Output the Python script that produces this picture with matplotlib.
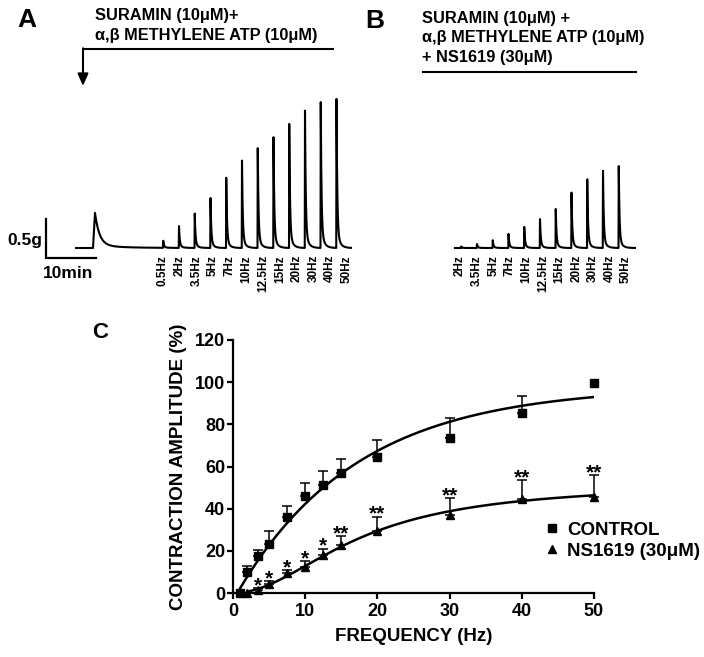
import numpy as np
import matplotlib
matplotlib.use('Agg')
import matplotlib.pyplot as plt
from matplotlib.lines import Line2D

plt.rcParams['font.family'] = ['Liberation Sans', 'DejaVu Sans']

W, H, DPI = 704, 657, 100

# ---------------- Panel A / B : isometric tension traces ----------------
freq_labels_A = ['0.5Hz', '2Hz', '3.5Hz', '5Hz', '7Hz', '10Hz', '12.5Hz',
                 '15Hz', '20Hz', '30Hz', '40Hz', '50Hz']
amp_A = [0.09, 0.28, 0.44, 0.64, 0.90, 1.12, 1.28, 1.42, 1.59, 1.76, 1.87, 1.91]   # g
drug_transient_A = 0.45   # g, response to drug application

freq_labels_B = ['2Hz', '3.5Hz', '5Hz', '7Hz', '10Hz', '12.5Hz', '15Hz',
                 '20Hz', '30Hz', '40Hz', '50Hz']
amp_B = [0.02, 0.05, 0.10, 0.18, 0.27, 0.37, 0.50, 0.71, 0.88, 0.99, 1.05]        # g

# ---------------- Panel C : frequency-response curves ----------------
freq_ctrl = [1, 2, 3.5, 5, 7.5, 10, 12.5, 15, 20, 30, 40, 50]
ctrl_mean = [0, 10.1, 17.5, 23.2, 36.2, 46.0, 51.2, 56.7, 64.6, 73.6, 85.5, 99.7]
ctrl_sem = [0, 2.8, 2.9, 6.2, 5.0, 6.1, 6.8, 6.8, 8.1, 9.2, 8.0, 0]

freq_ns = [2, 3.5, 5, 7.5, 10, 12.5, 15, 20, 30, 40, 50]
ns_mean = [0, 1.4, 4.4, 9.3, 12.5, 18.0, 22.7, 29.5, 36.9, 44.4, 45.6]
ns_sem = [0, 0.8, 1.2, 1.5, 2.5, 3.0, 4.2, 6.7, 8.0, 9.0, 10.3]
ns_sig = ['', '*', '*', '*', '*', '*', '**', '**', '**', '**', '**']

# fitted curves (nonlinear regression parameters)
ctrl_fit_top, ctrl_fit_k, ctrl_fit_x0 = 98.0, 0.06, 0.6          # one-phase association
ns_fit_top, ns_fit_ec50, ns_fit_hill = 52.0, 17.5, 2.0            # Hill


def contraction(t, t_on, amp, rise=0.05, tau_fast=0.15, tau_slow=0.6, frac_slow=0.12):
    dt = t - t_on
    out = np.zeros_like(t)
    r = (dt >= 0) & (dt < rise)
    out[r] = amp * dt[r] / rise
    d = dt >= rise
    dd = dt[d] - rise
    out[d] = amp * ((1 - frac_slow) * np.exp(-dd / tau_fast) + frac_slow * np.exp(-dd / tau_slow))
    return out


fig = plt.figure(figsize=(W / DPI, H / DPI), dpi=DPI)
fig.patch.set_facecolor('white')


def px_axes(left, right, top, bottom):
    return fig.add_axes([left / W, (H - bottom) / H, (right - left) / W, (bottom - top) / H])


# common trace scale: 5 px per minute, 78 px per gram, baseline at y=248 px
PX_MIN, PX_G, BASE_Y = 5.0, 78.0, 248.0
ylim_tr = ((BASE_Y - 262) / PX_G, (BASE_Y - 90) / PX_G)
lab_style = dict(rotation=90, ha='center', va='top', fontsize=8.5, fontweight='bold')

# ---- panel A trace ----
axA = px_axes(40, 360, 90, 262)
A_origin = 76
axA.set_xlim((40 - A_origin) / PX_MIN, (360 - A_origin) / PX_MIN)
axA.set_ylim(*ylim_tr)
axA.axis('off')
tA = np.arange(0, 55.0, 0.01)
yA = contraction(tA, 3.4, drug_transient_A, rise=0.4, tau_fast=0.9, tau_slow=5.0, frac_slow=0.08)
spike_interval = 3.15
first_spike_A = 17.4
label_interval = 3.34
for i, a in enumerate(amp_A):
    yA += contraction(tA, first_spike_A + i * spike_interval, a)
axA.plot(tA, yA, color='k', lw=1.5, solid_joinstyle='round')
for i, lab in enumerate(freq_labels_A):
    axA.text(first_spike_A + i * label_interval, -0.09, lab, **lab_style)
# scale bar (0.5 g, 10 min)
sb_x, sb_y = -6.0, -0.128
axA.plot([sb_x, sb_x, sb_x + 10], [sb_y + 0.5, sb_y, sb_y], color='k', lw=1.6,
         clip_on=False, solid_joinstyle='miter')

# ---- panel B trace ----
axB = px_axes(440, 650, 90, 262)
B_origin = 455
axB.set_xlim((440 - B_origin) / PX_MIN, (650 - B_origin) / PX_MIN)
axB.set_ylim(*ylim_tr)
axB.axis('off')
tB = np.arange(0, 36.0, 0.01)
yB = np.zeros_like(tB)
first_spike_B = 1.2
for i, a in enumerate(amp_B):
    yB += contraction(tB, first_spike_B + i * spike_interval, a)
axB.plot(tB, yB, color='k', lw=1.5)
for i, lab in enumerate(freq_labels_B):
    axB.text(1.0 + i * 3.32, -0.09, lab, **lab_style)

# ---------------- Panel C ----------------
axC = px_axes(233, 594, 340, 593)
axC.set_xlim(0, 50)
axC.set_ylim(0, 120)
for s in ['top', 'right']:
    axC.spines[s].set_visible(False)
for s in ['left', 'bottom']:
    axC.spines[s].set_linewidth(1.6)
axC.set_xticks([0, 10, 20, 30, 40, 50])
axC.set_yticks([0, 20, 40, 60, 80, 100, 120])
axC.tick_params(axis='both', direction='out', length=4, width=1.6, labelsize=13)
axC.tick_params(axis='y', pad=1.5)
axC.tick_params(axis='x', pad=3)
for lab in axC.get_xticklabels() + axC.get_yticklabels():
    lab.set_fontweight('bold')
axC.set_xlabel('FREQUENCY (Hz)', fontsize=13.5, fontweight='bold', labelpad=6)
axC.set_ylabel('CONTRACTION AMPLITUDE (%)', fontsize=13.5, fontweight='bold', labelpad=6)

xc = np.linspace(1, 50, 300)
axC.plot(xc, ctrl_fit_top * (1 - np.exp(-ctrl_fit_k * (xc - ctrl_fit_x0))), color='k', lw=1.8)
xn = np.linspace(2, 50, 300)
axC.plot(xn, ns_fit_top * xn ** ns_fit_hill / (ns_fit_ec50 ** ns_fit_hill + xn ** ns_fit_hill),
         color='k', lw=1.8)

fc = np.array(freq_ctrl); mc = np.array(ctrl_mean); sc = np.array(ctrl_sem)
m = sc > 0
axC.errorbar(fc[m], mc[m], yerr=[np.zeros(m.sum()), sc[m]], fmt='none', ecolor='k',
             elinewidth=1.1, capsize=3.5, capthick=1.1, clip_on=False)
fn = np.array(freq_ns); mn = np.array(ns_mean); sn = np.array(ns_sem)
m2 = sn > 0
axC.errorbar(fn[m2], mn[m2], yerr=[np.zeros(m2.sum()), sn[m2]], fmt='none', ecolor='k',
             elinewidth=1.1, capsize=3.5, capthick=1.1, clip_on=False)
axC.plot(fc, mc, 's', color='k', ms=5.5, clip_on=False, zorder=5)
axC.plot(fn, mn, '^', color='k', ms=6, clip_on=False, zorder=5)

for x, y, e, s in zip(freq_ns, ns_mean, ns_sem, ns_sig):
    if s:
        axC.annotate(s, xy=(x, y + e), xytext=(0, -2.2), textcoords='offset points',
                     ha='center', va='baseline', fontsize=15, fontweight='bold')

handles = [Line2D([], [], marker='s', ls='none', color='k', ms=5.5),
           Line2D([], [], marker='^', ls='none', color='k', ms=6)]
fig.legend(handles, ['CONTROL', 'NS1619 (30μM)'], loc='center left',
           bbox_to_anchor=(544.5 / W, 1 - 540.5 / H), frameon=False,
           prop=dict(size=13.5, weight='bold'), handlelength=0.8, handletextpad=0.4,
           borderpad=0, borderaxespad=0, labelspacing=0.2)

# ---------------- overlay: panel letters, drug annotations ----------------
ov = fig.add_axes([0, 0, 1, 1])
ov.set_xlim(0, W)
ov.set_ylim(H, 0)
ov.axis('off')
ov.patch.set_alpha(0)

ov.text(17, 27, 'A', fontsize=19, fontweight='bold', ha='left', va='baseline')
ov.text(365, 28, 'B', fontsize=19, fontweight='bold', ha='left', va='baseline')
ov.text(92, 338, 'C', fontsize=16, fontweight='bold', ha='left', va='baseline')

hdr = dict(fontsize=11.8, fontweight='bold', ha='left', va='baseline')
ov.text(95, 20, 'SURAMIN (10μM)+', **hdr)
ov.text(95, 40, 'α,β METHYLENE ATP (10μM)', **hdr)
ov.plot([83, 334], [49, 49], color='k', lw=1.5, solid_capstyle='butt')
ov.annotate('', xy=(83, 86), xytext=(83, 48.3),
            arrowprops=dict(arrowstyle='-|>,head_width=0.35,head_length=0.8',
                            mutation_scale=9, lw=1.5, color='k', shrinkA=0, shrinkB=0))

ov.text(422, 23, 'SURAMIN (10μM) +', **hdr)
ov.text(422, 42, 'α,β METHYLENE ATP (10μM)', **hdr)
ov.text(422, 62, '+ NS1619 (30μM)', **hdr)
ov.plot([422, 637], [72, 72], color='k', lw=1.5, solid_capstyle='butt')

ov.text(42, 240, '0.5g', fontsize=12.5, fontweight='bold', ha='right', va='center')
ov.text(68, 273, '10min', fontsize=12.5, fontweight='bold', ha='center', va='center')

fig.savefig('out.png', dpi=DPI, facecolor='white')
